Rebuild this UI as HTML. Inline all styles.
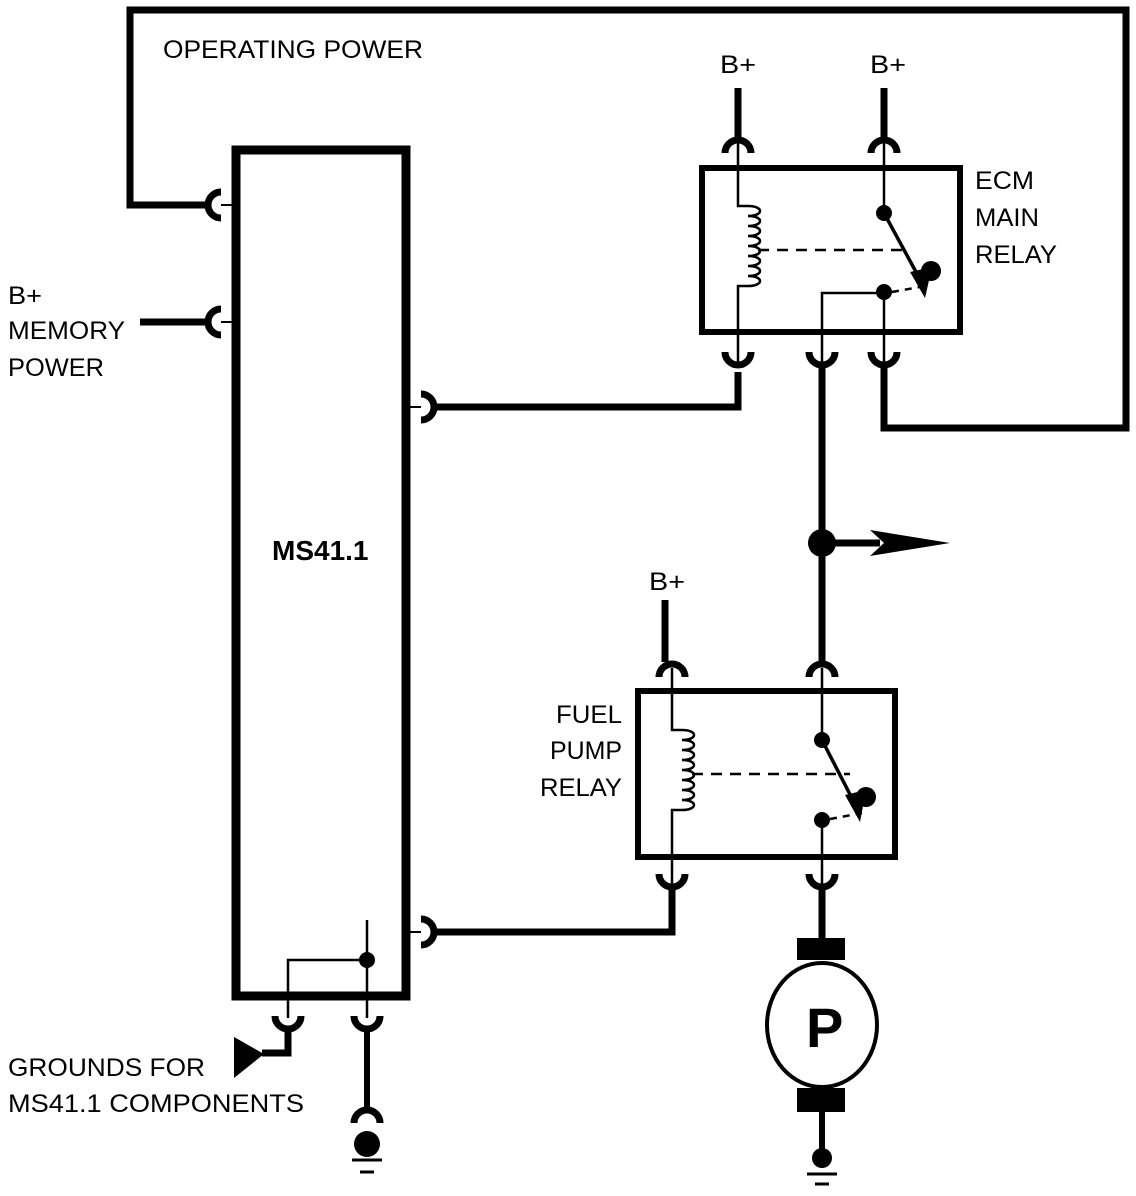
<!DOCTYPE html>
<html><head><style>html,body{margin:0;padding:0;background:#fff}svg{display:block}text{font-family:"Liberation Sans",sans-serif;font-size:25px;fill:#000}</style></head>
<body>
<svg width="1136" height="1196" viewBox="0 0 1136 1196" xmlns="http://www.w3.org/2000/svg">
<g fill="none" stroke="#000" stroke-linecap="butt">
<rect x="236" y="150" width="170" height="846" stroke-width="9"/>
<polyline points="209,205 130,205 130,10 1126,10 1126,428 884,428 884,374" stroke-width="7"/>
<path d="M221 192 A13 13 0 0 0 221 218" stroke-width="7"/>
<line x1="221" y1="205" x2="236" y2="205" stroke-width="2"/>
<line x1="140" y1="322" x2="209" y2="322" stroke-width="7"/>
<path d="M221 309 A13 13 0 0 0 221 335" stroke-width="7"/>
<line x1="221" y1="322" x2="236" y2="322" stroke-width="2"/>
<path d="M421 394 A13 13 0 0 1 421 420" stroke-width="7"/>
<line x1="406" y1="407" x2="421" y2="407" stroke-width="2"/>
<polyline points="434,407 738,407 738,372" stroke-width="7"/>
<path d="M421 919 A13 13 0 0 1 421 945" stroke-width="7"/>
<line x1="406" y1="932" x2="421" y2="932" stroke-width="2"/>
<polyline points="434,932 672,932 672,888" stroke-width="7"/>

<rect x="702" y="168" width="258" height="164" stroke-width="6"/>
<line x1="738" y1="88" x2="738" y2="140" stroke-width="7"/>
<line x1="884" y1="88" x2="884" y2="140" stroke-width="7"/>
<path d="M725 153 A13 13 0 0 1 751 153 M871 153 A13 13 0 0 1 897 153" stroke-width="7"/>
<path d="M725 352 A13 13 0 0 0 751 352 M809 352 A13 13 0 0 0 835 352 M871 352 A13 13 0 0 0 897 352" stroke-width="7"/>
<g stroke-width="2.5">
<polyline points="738,142 738,206 748,206"/>
<path d="M748 206 c16 0 16 10 0 10 c16 0 16 10 0 10 c16 0 16 10 0 10 c16 0 16 10 0 10 c16 0 16 10 0 10 c16 0 16 10 0 10 c16 0 16 10 0 10 c16 0 16 10 0 10"/>
<polyline points="748,286 738,286 738,362"/>
<line x1="884" y1="142" x2="884" y2="213"/>
<polyline points="822,362 822,293 884,293 884,362"/>
<line x1="884" y1="213" x2="922" y2="283" stroke-width="3.5"/>
<line x1="758" y1="250" x2="905" y2="250" stroke-dasharray="11,8"/>
<line x1="892" y1="292" x2="925" y2="286" stroke-dasharray="7,6"/>
</g>
<line x1="822" y1="364" x2="822" y2="665" stroke-width="7"/>
<line x1="884" y1="364" x2="884" y2="430" stroke-width="7"/>
<line x1="822" y1="543" x2="880" y2="543" stroke-width="7"/>

<rect x="638" y="691" width="257" height="166" stroke-width="6"/>
<line x1="665" y1="600" x2="665" y2="662" stroke-width="7"/>
<path d="M659 677 A13 13 0 0 1 685 677 M809 677 A13 13 0 0 1 835 677" stroke-width="7"/>
<path d="M659 874 A13 13 0 0 0 685 874 M809 874 A13 13 0 0 0 835 874" stroke-width="7"/>
<g stroke-width="2.5">
<polyline points="672,668 672,730 682,730"/>
<path d="M682 730 c16 0 16 10 0 10 c16 0 16 10 0 10 c16 0 16 10 0 10 c16 0 16 10 0 10 c16 0 16 10 0 10 c16 0 16 10 0 10 c16 0 16 10 0 10 c16 0 16 10 0 10"/>
<polyline points="682,810 672,810 672,884"/>
<line x1="822" y1="668" x2="822" y2="740"/>
<line x1="822" y1="820" x2="822" y2="884"/>
<line x1="822" y1="740" x2="857" y2="808" stroke-width="3.5"/>
<line x1="692" y1="774" x2="850" y2="774" stroke-dasharray="11,8"/>
<line x1="830" y1="819" x2="862" y2="813" stroke-dasharray="7,6"/>
</g>
<line x1="822" y1="886" x2="822" y2="942" stroke-width="7"/>
<ellipse cx="822" cy="1025" rx="55" ry="62" stroke-width="4"/>
<line x1="822" y1="1108" x2="822" y2="1152" stroke-width="6"/>
<line x1="807" y1="1174" x2="837" y2="1174" stroke-width="3"/>
<line x1="815" y1="1184" x2="829" y2="1184" stroke-width="3"/>

<g stroke-width="2.5">
<polyline points="367,920 367,1018"/>
<polyline points="367,960 288,960 288,1018"/>
</g>
<path d="M275 1016 A13 13 0 0 0 301 1016 M354 1016 A13 13 0 0 0 380 1016" stroke-width="7"/>
<polyline points="288,1029 288,1053 262,1053" stroke-width="7"/>
<line x1="367" y1="1029" x2="367" y2="1110" stroke-width="6"/>
<path d="M354 1123 A13 13 0 0 1 380 1123" stroke-width="7"/>
<line x1="352" y1="1160" x2="382" y2="1160" stroke-width="3"/>
<line x1="360" y1="1172" x2="374" y2="1172" stroke-width="3"/>
</g>
<g fill="#000">
<circle cx="367" cy="960" r="8"/>
<circle cx="884" cy="213" r="8"/>
<circle cx="931" cy="271" r="10"/>
<circle cx="884" cy="292" r="8"/>
<polygon points="910,272 932,267 925,298"/>
<circle cx="822" cy="543" r="14"/>
<polygon points="870,530 950,543 870,556 884,543"/>
<circle cx="822" cy="740" r="8"/>
<circle cx="866" cy="797" r="10"/>
<circle cx="822" cy="820" r="8"/>
<polygon points="845,795 866,790 860,822"/>
<rect x="797" y="938" width="48" height="22"/>
<rect x="797" y="1088" width="48" height="24"/>
<circle cx="822" cy="1158" r="10"/>
<circle cx="367" cy="1144" r="13"/>
<polygon points="234,1037 264,1054 234,1078"/>
</g>
<text x="806" y="1047" style="font-size:56px;font-weight:bold">P</text>
<g style="font-size:27px">
<text x="163" y="58" textLength="260" lengthAdjust="spacingAndGlyphs">OPERATING POWER</text>
<text x="720" y="73" textLength="36" lengthAdjust="spacingAndGlyphs">B+</text>
<text x="870" y="73" textLength="36" lengthAdjust="spacingAndGlyphs">B+</text>
<text x="649" y="590" textLength="36" lengthAdjust="spacingAndGlyphs">B+</text>
<text x="975" y="189" textLength="59" lengthAdjust="spacingAndGlyphs">ECM</text>
<text x="975" y="226" textLength="64" lengthAdjust="spacingAndGlyphs">MAIN</text>
<text x="975" y="263" textLength="82" lengthAdjust="spacingAndGlyphs">RELAY</text>
<text x="8" y="304" textLength="34" lengthAdjust="spacingAndGlyphs">B+</text>
<text x="8" y="339" textLength="117" lengthAdjust="spacingAndGlyphs">MEMORY</text>
<text x="8" y="376" textLength="96" lengthAdjust="spacingAndGlyphs">POWER</text>
<text x="556" y="723" textLength="66" lengthAdjust="spacingAndGlyphs">FUEL</text>
<text x="550" y="759" textLength="72" lengthAdjust="spacingAndGlyphs">PUMP</text>
<text x="540" y="796" textLength="82" lengthAdjust="spacingAndGlyphs">RELAY</text>
<text x="8" y="1076" textLength="197" lengthAdjust="spacingAndGlyphs">GROUNDS FOR</text>
<text x="8" y="1112" textLength="296" lengthAdjust="spacingAndGlyphs">MS41.1 COMPONENTS</text>
</g>
<text x="272" y="560" style="font-weight:bold;font-size:28px">MS41.1</text>
</svg>
</body></html>
